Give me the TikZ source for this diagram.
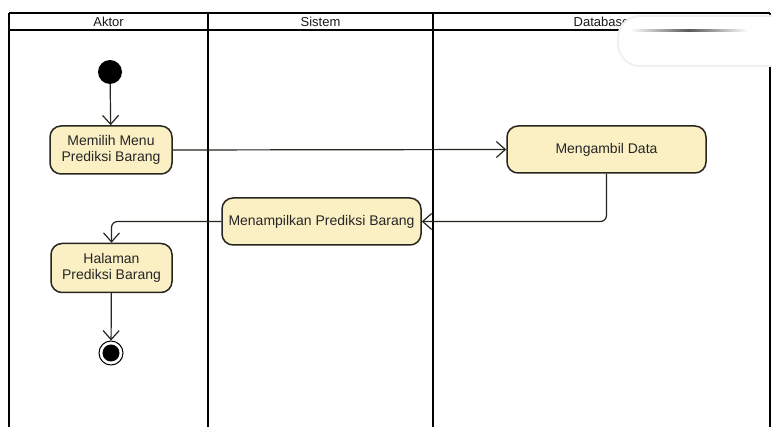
\documentclass[tikz,border=0pt]{standalone}
\usepackage{fontspec}
\setmainfont{Liberation Sans}
\usetikzlibrary{arrows.meta}
\definecolor{actfill}{HTML}{FBF0C4}
\definecolor{actline}{HTML}{26261E}
\begin{document}
\begin{tikzpicture}[x=1pt,y=-1pt,
  lane/.style={line width=2.8pt,black},
  activity/.style={draw=actline,fill=actfill,line width=1.5pt,rounded corners=11pt,
    align=center,font=\fontsize{14}{16}\selectfont,inner sep=2pt,text=black!85},
  flow/.style={draw=actline,line width=1.2pt,
    -{Straight Barb[length=9pt,width=16pt,line width=1.2pt]}},
  lanehead/.style={font=\fontsize{13}{15}\selectfont,anchor=center,text=black!90}]
\useasboundingbox (0,0) rectangle (772,427);
\fill[white] (0,0) rectangle (772,427);

% swimlane frame
\draw[lane] (9,13) -- (770,13);
\draw[lane] (9,30) -- (770,30);
\draw[lane] (9,13) -- (9,427);
\draw[lane] (208,13) -- (208,427);
\draw[lane] (433,13) -- (433,427);
\draw[lane] (770,13) -- (770,427);
\node[lanehead] (hAktor) at (108.5,21.5) {Aktor};
\node[lanehead] (hSistem) at (320.5,21.5) {Sistem};
\node[lanehead] (hDatabase) at (601.5,21.5) {Database};

% activities
\node[circle,fill=black,minimum size=24pt,inner sep=0pt] (start) at (110,72) {};
\node[activity,minimum width=122pt,minimum height=48pt] (pilih) at (111,150) {Memilih Menu\\Prediksi Barang};
\node[activity,minimum width=199pt,minimum height=47pt] (ambil) at (606.5,149.5) {Mengambil Data};
\node[activity,minimum width=199pt,minimum height=47pt] (tampil) at (321.5,221.5) {Menampilkan Prediksi Barang};
\node[activity,minimum width=121pt,minimum height=49pt] (halaman) at (111.5,268) {Halaman\\Prediksi Barang};
\node[circle,draw=black,line width=1pt,fill=white,minimum size=24pt,inner sep=0pt] (end) at (111,353) {};
\fill[black] (end.center) circle (8.5pt);

% control flow
\draw[flow] (start) -- (pilih);
\draw[flow] (pilih.east) -- (ambil.west);
\draw[flow,rounded corners=6pt] (ambil.south) |- (tampil.east);
\draw[flow,rounded corners=6pt] (tampil.west) -| (halaman.north);
\draw[flow] (halaman) -- (end);

% white smudge over the top right corner
\fill[white,draw=black!6,line width=2pt,rounded corners=22pt] (618,16) rectangle (800,66);
\shade[left color=white,right color=white,middle color=black!65] (630,29.3) rectangle (748,31.2);
\end{tikzpicture}
\end{document}
